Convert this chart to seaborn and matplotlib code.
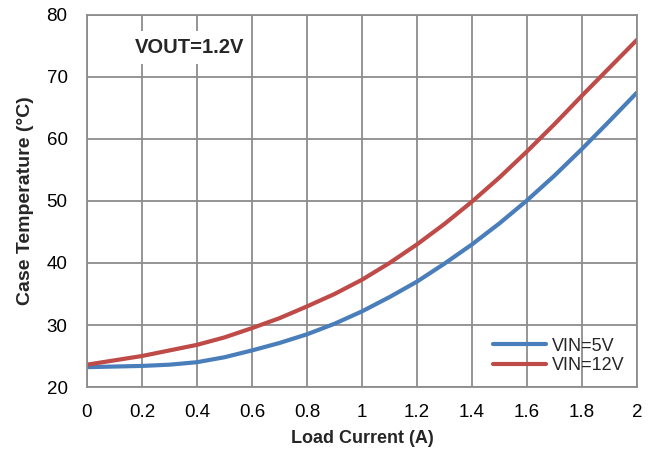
import matplotlib
matplotlib.use("Agg")
import matplotlib.pyplot as plt
import seaborn as sns
import pandas as pd

current = [0.0, 0.1, 0.2, 0.3, 0.4, 0.5, 0.6, 0.7, 0.8, 0.9, 1.0,
           1.1, 1.2, 1.3, 1.4, 1.5, 1.6, 1.7, 1.8, 1.9, 2.0]
temp_vin5 = [23.2, 23.3, 23.4, 23.6, 24.0, 24.8, 25.9, 27.1, 28.5, 30.2, 32.2,
             34.5, 37.0, 39.9, 43.0, 46.4, 50.1, 54.1, 58.4, 62.9, 67.5]
temp_vin12 = [23.6, 24.3, 25.0, 25.9, 26.8, 28.0, 29.5, 31.1, 33.0, 35.0, 37.3,
              40.0, 43.0, 46.3, 49.9, 53.8, 58.0, 62.4, 67.0, 71.5, 76.0]
series_names = ["VIN=5V", "VIN=12V"]
x_ticks = [0, 0.2, 0.4, 0.6, 0.8, 1, 1.2, 1.4, 1.6, 1.8, 2]
x_tick_labels = ["0", "0.2", "0.4", "0.6", "0.8", "1", "1.2", "1.4", "1.6", "1.8", "2"]
y_ticks = [20, 30, 40, 50, 60, 70, 80]

df = pd.DataFrame({
    "current": current * 2,
    "temp": temp_vin5 + temp_vin12,
    "series": [series_names[0]] * len(current) + [series_names[1]] * len(current),
})

sns.set_style("white")
plt.rcParams["font.family"] = ["Liberation Sans", "DejaVu Sans"]

fig = plt.figure(figsize=(6.55, 4.54), dpi=100)
ax = fig.add_axes([87 / 655, 1 - 387 / 454, 550 / 655, 372 / 454])

sns.lineplot(data=df, x="current", y="temp", hue="series",
             palette={"VIN=5V": "#4A7EBB", "VIN=12V": "#BE4B48"},
             linewidth=3.0, ax=ax, sort=True)
for ln in ax.get_lines():
    ln.set_solid_capstyle("round")
    ln.set_solid_joinstyle("round")

ax.set_xlim(0, 2)
ax.set_ylim(20, 80)
ax.set_xticks(x_ticks)
ax.set_xticklabels(x_tick_labels)
ax.set_yticks(y_ticks)
ax.grid(True, color="#8C8C8C", linewidth=1.3)
ax.set_axisbelow(True)
for s in ax.spines.values():
    s.set_color("#8C8C8C")
    s.set_linewidth(1.3)
ax.tick_params(axis="both", length=0, labelsize=13.5, colors="black")
ax.tick_params(axis="x", pad=12)
ax.tick_params(axis="y", pad=14)
ax.set_xlabel("Load Current (A)", fontsize=13, fontweight="bold", labelpad=7)
ax.set_ylabel("Case Temperature (°C)", fontsize=14, fontweight="bold", labelpad=9)

ax.text(0.175, 74.8, "VOUT=1.2V", fontsize=14.5, fontweight="bold", ha="left", va="center",
        bbox=dict(facecolor="white", edgecolor="none", pad=5))

leg = ax.legend(loc="lower right", frameon=False, fontsize=13, handlelength=2.95,
                handletextpad=0.3, labelspacing=0.15, borderaxespad=0.3)
for h in leg.get_lines():
    h.set_solid_capstyle("round")
leg.set_title(None)

fig.savefig("out.png", dpi=100)
